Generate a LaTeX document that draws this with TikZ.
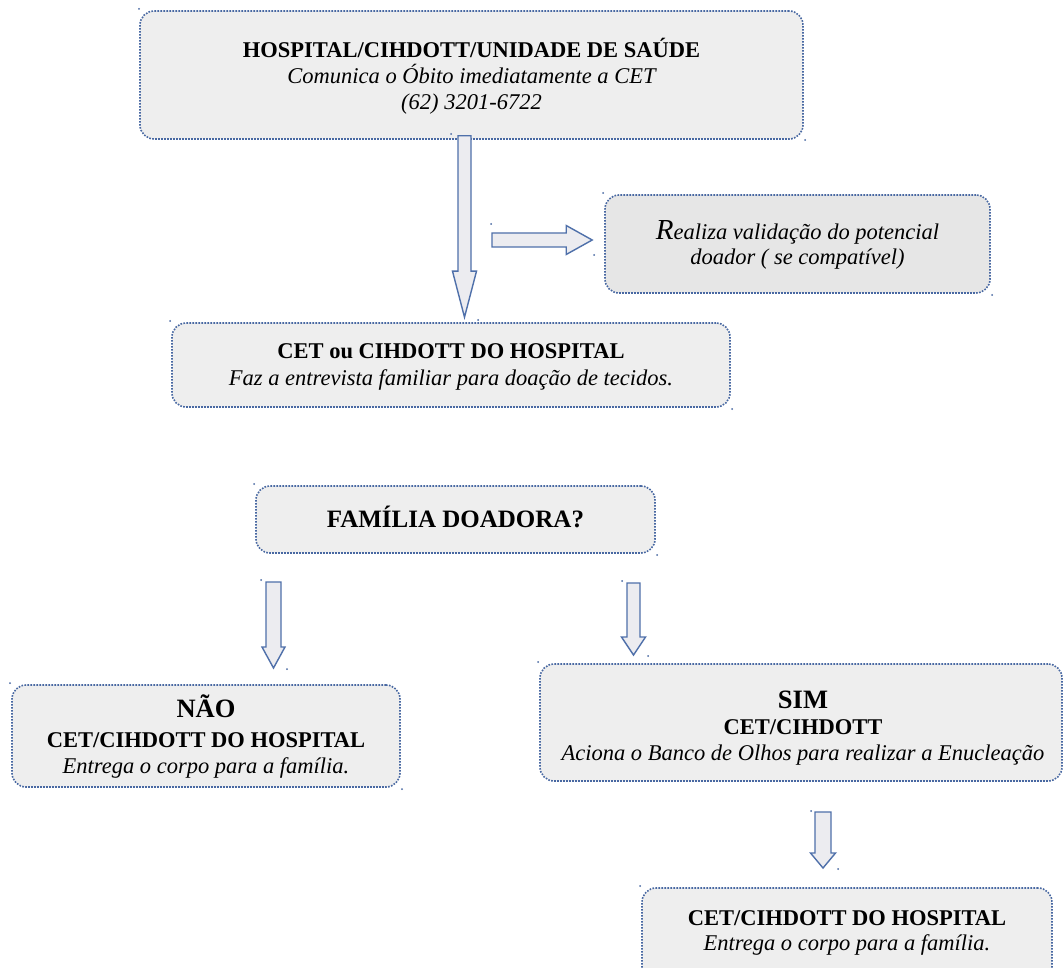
\documentclass[tikz,border=0pt]{standalone}
\usepackage{fontspec}
\setmainfont{Liberation Serif}
\usetikzlibrary{calc}
\definecolor{dotblue}{RGB}{72,104,162}
\definecolor{arrblue}{RGB}{79,112,170}
\definecolor{boxfill}{RGB}{238,238,238}
\definecolor{boxfillb}{RGB}{230,230,230}
\definecolor{arrfill}{RGB}{236,236,240}
\tikzset{
  box/.style={draw=dotblue, fill=boxfill, line width=1.6pt, dash pattern=on 1.6pt off 1.4pt, rounded corners=14pt, inner sep=0pt},
  txt/.style={anchor=base, inner sep=0pt, font=\fontsize{22.5}{24}\selectfont},
  bigtxt/.style={anchor=base, inner sep=0pt, font=\fontsize{26.5}{28}\selectfont\bfseries},
  blockarrow/.style={draw=arrblue, fill=arrfill, line width=1.4pt, line join=miter},
  anchordot/.style={fill=dotblue, inner sep=0pt, minimum size=2pt, circle}
}
% #1 start (top centre), #2 tip, #3 shaft half width, #4 head half width, #5 head length
\newcommand\blockdown[5]{%
  \draw[blockarrow] ($(#1)+(-#3,0)$) -- ($(#1)+(#3,0)$) -- ($(#2)+(#3,-#5)$) -- ($(#2)+(#4,-#5)$) -- (#2)
    -- ($(#2)+(-#4,-#5)$) -- ($(#2)+(-#3,-#5)$) -- cycle;}
\newcommand\blockright[5]{%
  \draw[blockarrow] ($(#1)+(0,-#3)$) -- ($(#2)+(-#5,-#3)$) -- ($(#2)+(-#5,-#4)$) -- (#2)
    -- ($(#2)+(-#5,#4)$) -- ($(#2)+(-#5,#3)$) -- ($(#1)+(0,#3)$) -- cycle;}
\begin{document}
\begin{tikzpicture}[x=1pt,y=-1pt]
\useasboundingbox (0,0) rectangle (1063,968);
\fill[white] (0,0) rectangle (1063,968);

% boxes
\node[box, minimum width=663pt, minimum height=128pt] (top) at (471.5,75) {};
\node[box, fill=boxfillb, minimum width=385pt, minimum height=98pt] (valid) at (797.5,244) {};
\node[box, minimum width=558pt, minimum height=84pt] (cet) at (451,365) {};
\node[box, minimum width=399pt, minimum height=67pt] (fam) at (455.5,519.5) {};
\node[box, minimum width=388pt, minimum height=102pt] (nao) at (206,736) {};
\node[box, minimum width=522pt, minimum height=117pt] (sim) at (801,722.5) {};
\node[box, minimum width=410pt, minimum height=102pt] (fin) at (847,939) {};

% texts
\node[txt, font=\fontsize{22.5}{24}\selectfont\bfseries] (t1) at (471.5,58) {HOSPITAL/CIHDOTT/UNIDADE DE SAÚDE};
\node[txt, font=\fontsize{22.5}{24}\selectfont\itshape] (t2) at (471.5,84) {Comunica o Óbito imediatamente a CET};
\node[txt, font=\fontsize{22.5}{24}\selectfont\itshape] (t3) at (471.5,110) {(62) 3201-6722};

\node[txt, font=\fontsize{22.5}{24}\selectfont\itshape] (v1) at (797.5,240) {{\fontsize{29}{29}\selectfont R}ealiza validação do potencial};
\node[txt, font=\fontsize{22.5}{24}\selectfont\itshape] (v2) at (797.5,265) {doador ( se compatível)};

\node[txt, font=\fontsize{22.5}{24}\selectfont\bfseries] (c1) at (451,359) {CET ou CIHDOTT DO HOSPITAL};
\node[txt, font=\fontsize{22.5}{24}\selectfont\itshape] (c2) at (451,385) {Faz a entrevista familiar para doação de tecidos.};

\node[txt, font=\fontsize{25}{26}\selectfont\bfseries] (f1) at (455.5,527) {FAMÍLIA DOADORA?};

\node[bigtxt] (n1) at (206,717) {NÃO};
\node[txt, font=\fontsize{22.5}{24}\selectfont\bfseries] (n2) at (206,747) {CET/CIHDOTT DO HOSPITAL};
\node[txt, font=\fontsize{22.5}{24}\selectfont\itshape] (n3) at (206,773) {Entrega o corpo para a família.};

\node[bigtxt] (s1) at (803,708) {SIM};
\node[txt, font=\fontsize{22.5}{24}\selectfont\bfseries] (s2) at (803,734) {CET/CIHDOTT};
\node[txt, font=\fontsize{22.5}{24}\selectfont\itshape] (s3) at (803,760) {Aciona o Banco de Olhos para realizar a Enucleação};

\node[txt, font=\fontsize{22.5}{24}\selectfont\bfseries] (e1) at (847,925) {CET/CIHDOTT DO HOSPITAL};
\node[txt, font=\fontsize{22.5}{24}\selectfont\itshape] (e2) at (847,950) {Entrega o corpo para a família.};

% arrow end points
\coordinate (a1s) at ($(top.south -| 464.5,0)+(0,-4)$);
\coordinate (a1t) at ($(cet.north -| 464.5,0)+(0,-5)$);
\coordinate (a2s) at (492,240);
\coordinate (a2t) at ($(valid.west |- 0,240)+(-12,0)$);
\coordinate (a3s) at (273.5,582);
\coordinate (a3t) at (273.5,668);
\coordinate (a4s) at (633.5,583);
\coordinate (a4t) at (633.5,655);
\coordinate (a5s) at (823,812);
\coordinate (a5t) at (823,868);

\blockdown{a1s}{a1t}{6.5}{12}{46}
\blockright{a2s}{a2t}{7}{14.5}{26}
\blockdown{a3s}{a3t}{7.5}{11.5}{21}
\blockdown{a4s}{a4t}{6.5}{12}{18}
\blockdown{a5s}{a5t}{8}{12.5}{15}

% small anchor dots shown at the corners of the drawing objects
\foreach \p in {(139,9),(805,140),(603,193),(992,295),(451,134),(478,320),(491,224),(594,255),
  (170,321),(732,409),(254,484),(657,555),(261,580),(287,669),(622,581),(648,656),
  (10,683),(402,789),(538,662),(811,811),(838,869),(640,886)}
  \node[anchordot] at \p {};
\end{tikzpicture}
\end{document}
